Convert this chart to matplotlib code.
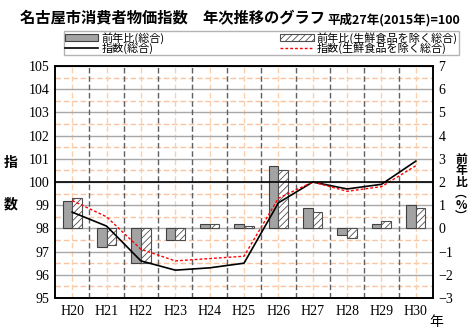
import numpy as np
import matplotlib.pyplot as plt
from matplotlib.lines import Line2D
from matplotlib.patches import Patch

plt.rcParams['font.family'] = ['Noto Sans CJK JP', 'DejaVu Sans']
plt.rcParams['hatch.linewidth'] = 0.6

# data
years = ['H20', 'H21', 'H22', 'H23', 'H24', 'H25', 'H26', 'H27', 'H28', 'H29', 'H30']
yoy_all = [1.2, -0.8, -1.5, -0.5, 0.2, 0.2, 2.7, 0.9, -0.3, 0.2, 1.0]
yoy_core = [1.3, -0.7, -1.5, -0.5, 0.2, 0.1, 2.5, 0.7, -0.4, 0.3, 0.9]
idx_all = [98.7, 98.1, 96.6, 96.2, 96.3, 96.5, 99.1, 100.0, 99.7, 99.9, 100.9]
idx_core = [99.2, 98.5, 97.1, 96.6, 96.7, 96.8, 99.3, 100.0, 99.6, 99.8, 100.7]

left_ticks = list(range(95, 106))
right_ticks = list(range(-3, 8))

serif = 'Liberation Serif'

fig = plt.figure(figsize=(4.73, 3.28), dpi=100)
# bars + grid on the back axes (right scale), lines on the twin (left scale)
axb = fig.add_axes([55/473, 30/328, 378/473, 232/328])
ax = axb.twinx()
axb.yaxis.tick_right()
ax.yaxis.tick_left()

x = np.arange(len(years))
w = 0.28

axb.set_xlim(-0.5, len(years) - 0.5)
axb.set_ylim(-3, 7)
ax.set_ylim(95, 105)

# grid
for yv in right_ticks:
    axb.axhline(yv, color='#a8a8a8', lw=1, zorder=1.2)
for yv in np.arange(-2.5, 7, 1):
    axb.axhline(yv, color='#f9c4a0', lw=1, ls=(0, (4, 2)), zorder=1)
for xv in x:
    axb.axvline(xv, color='#fbd0ac', lw=1, ls=(0, (4, 2)), zorder=1)
for xv in x[:-1] + 0.5:
    axb.axvline(xv, color='#606060', lw=1, ls=(0, (4, 2)), zorder=1.3)

axb.bar(x - w/2, yoy_all, w, color='#a3a3a3', edgecolor='#404040', lw=0.8, zorder=3)
axb.bar(x + w/2, yoy_core, w, color='white', edgecolor='#505050', lw=0.8,
        hatch='/////', zorder=3)

ax.plot(x, idx_all, color='black', lw=1.2)
ax.plot(x, idx_core, color='red', lw=1.0, ls=(0, (2, 1.5)))
ax.axhline(100, color='black', lw=1.2)

axb.set_xticks(x, years, fontfamily=serif, fontsize=10)
axb.set_yticks(right_ticks, [str(v).replace('-', '\u2212') for v in right_ticks],
               fontfamily=serif, fontsize=10)
ax.set_yticks(left_ticks, [str(v) for v in left_ticks], fontfamily=serif, fontsize=10)

axb.tick_params(axis='both', which='both', length=0, pad=4)
axb.tick_params(axis='x', pad=5)
ax.tick_params(axis='y', length=0, pad=4)
for a in (ax, axb):
    for s in a.spines.values():
        s.set_linewidth(1.2)
        s.set_color('black')

# titles and labels
fig.text(20/473, 1 - 18/328, '名古屋市消費者物価指数　年次推移のグラフ',
         fontsize=11, fontweight='bold', va='center', ha='left')
fig.text(460/473, 1 - 20/328, '平成27年(2015年)=100',
         fontsize=9, fontweight='bold', va='center', ha='right')
fig.text(11/473, 1 - 163/328, '指', fontsize=10, fontweight='bold', ha='center', va='center')
fig.text(11/473, 1 - 205/328, '数', fontsize=10, fontweight='bold', ha='center', va='center')
fig.text(461/473, 1 - 188/328, '前\n年\n比\n\ufe35\n%\n\ufe36', fontsize=8.5,
         fontweight='bold', ha='center', va='center', linespacing=0.85)
fig.text(436/473, 1 - 322/328, '年', fontsize=10, ha='center', va='center')

handles = [Patch(facecolor='#a3a3a3', edgecolor='#404040', lw=0.8),
           Line2D([], [], color='black', lw=1.2),
           Patch(facecolor='white', edgecolor='#505050', lw=0.8, hatch='/////'),
           Line2D([], [], color='red', lw=1.0, ls=(0, (2, 1.5)))]
labels = ['前年比(総合)', '指数(総合)', '前年比(生鮮食品を除く総合)', '指数(生鮮食品を除く総合)']
leg = fig.legend(handles, labels, loc='upper left', ncol=2, mode='expand',
                 bbox_to_anchor=(64/473, 1 - 31/328, 395/473, 0.001),
                 fontsize=8, frameon=True, fancybox=False, edgecolor='#a0a0a0',
                 handlelength=3.0, handleheight=0.5, handletextpad=0.3,
                 labelspacing=-0.1, borderpad=0.1, borderaxespad=0)
leg.get_frame().set_linewidth(1.0)

fig.savefig('out.png', dpi=100)
